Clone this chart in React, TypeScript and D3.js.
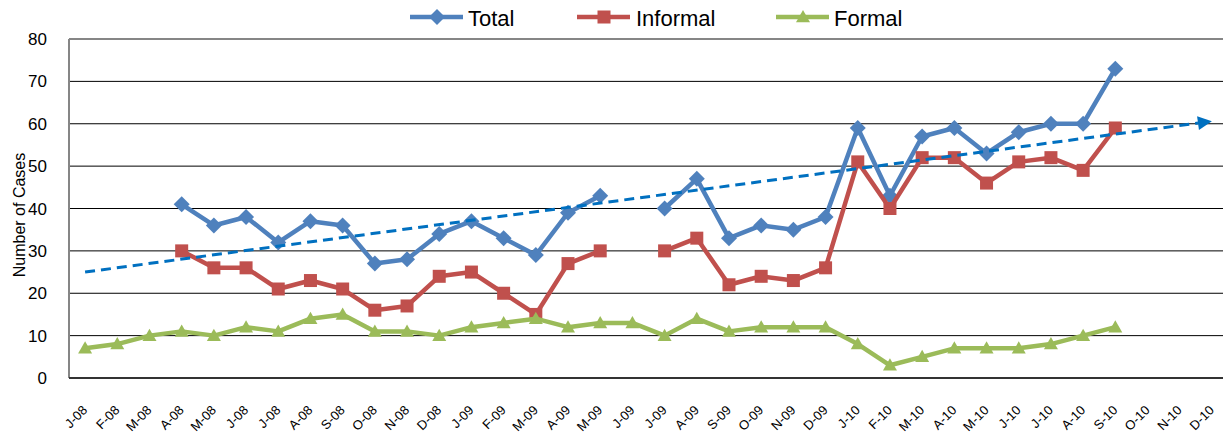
import React from "react";
import * as d3 from "d3";

const categories = ["J-08","F-08","M-08","A-08","M-08","J-08","J-08","A-08","S-08","O-08","N-08","D-08",
  "J-09","F-09","M-09","A-09","M-09","J-09","J-09","A-09","S-09","O-09","N-09","D-09",
  "J-10","F-10","M-10","A-10","M-10","J-10","J-10","A-10","S-10","O-10","N-10","D-10"];

const totalValues: (number | null)[] = [null,null,null,41,36,38,32,37,36,27,28,34,
  37,33,29,39,43,null,40,47,33,36,35,38,
  59,43,57,59,53,58,60,60,73,null,null,null];

const informalValues: (number | null)[] = [null,null,null,30,26,26,21,23,21,16,17,24,
  25,20,15,27,30,null,30,33,22,24,23,26,
  51,40,52,52,46,51,52,49,59,null,null,null];

const formalValues: (number | null)[] = [7,8,10,11,10,12,11,14,15,11,11,10,
  12,13,14,12,13,13,10,14,11,12,12,12,
  8,3,5,7,7,7,8,10,12,null,null,null];

const trendEnds = [25, 60.6];
const yTicks = [0,10,20,30,40,50,60,70,80];

const W = 1223, H = 437;
const left = 69, right = 1228, top = 39, bottom = 378;

const x = d3.scaleBand<number>().domain(categories.map((_, i) => i)).range([left, right]);
const cx = (i: number) => (x(i) as number) + x.bandwidth() / 2;
const y = d3.scaleLinear().domain([0, 80]).range([bottom, top]);

const COLORS = { total: "#4F81BD", informal: "#C0504D", formal: "#9BBB59", trend: "#0070C0" };

function linePath(vals: (number | null)[]) {
  return d3.line<number | null>()
    .defined(v => v !== null)
    .x((_, i) => cx(i))
    .y(v => y(v as number))(vals) || "";
}

const diamond = (px: number, py: number, r = 8) =>
  `M${px},${py - r}L${px + r},${py}L${px},${py + r}L${px - r},${py}Z`;
const triangle = (px: number, py: number, s = 7) =>
  `M${px},${py - s}L${px + s},${py + s * 0.75}L${px - s},${py + s * 0.75}Z`;

function Marker({ kind, px, py, color }: { kind: string; px: number; py: number; color: string }) {
  if (kind === "diamond") return <path d={diamond(px, py)} fill={color} />;
  if (kind === "square") return <rect x={px - 6.5} y={py - 6.5} width={13} height={13} fill={color} />;
  return <path d={triangle(px, py)} fill={color} />;
}

const seriesList = [
  { name: "Total", values: totalValues, color: COLORS.total, kind: "diamond", lx: 410, tx: 468 },
  { name: "Informal", values: informalValues, color: COLORS.informal, kind: "square", lx: 577, tx: 636 },
  { name: "Formal", values: formalValues, color: COLORS.formal, kind: "triangle", lx: 776, tx: 834 },
];

export default function App() {
  const tx0 = cx(0), tx1 = cx(categories.length - 1);
  const ty0 = y(trendEnds[0]), ty1 = y(trendEnds[1]);
  const ang = Math.atan2(ty1 - ty0, tx1 - tx0);
  const aLen = 14, aW = 7;
  const bx = tx1 - aLen * Math.cos(ang), by = ty1 - aLen * Math.sin(ang);
  const arrow = `M${tx1},${ty1}L${bx - aW * Math.sin(ang)},${by + aW * Math.cos(ang)}L${bx + aW * Math.sin(ang)},${by - aW * Math.cos(ang)}Z`;

  return (
    <svg width={W} height={H} style={{ position: "absolute", left: 0, top: 0, fontFamily: "'Liberation Sans', Arial, sans-serif" }}>
      <rect x={0} y={0} width={W} height={H} fill="#fff" />
      {yTicks.filter(t => t > 0 && t < 80).map(t => (
        <line key={t} x1={left} x2={W} y1={y(t)} y2={y(t)} stroke="#000" strokeWidth={1} />
      ))}
      <line x1={left} x2={W} y1={y(80)} y2={y(80)} stroke="#868686" strokeWidth={2} />
      <line x1={left} x2={left} y1={top} y2={bottom} stroke="#868686" strokeWidth={2} />
      <line x1={left} x2={W} y1={bottom} y2={bottom} stroke="#333" strokeWidth={2} />
      {yTicks.map(t => (
        <text key={t} x={47} y={y(t) + 6} textAnchor="end" fontSize={17} fill="#000">{t}</text>
      ))}
      {categories.map((c, i) => (
        <text key={i} transform={`translate(${cx(i) + 3},${411}) rotate(-45)`} textAnchor="end" fontSize={13} fill="#000">{c}</text>
      ))}
      <text transform={`translate(25,215) rotate(-90)`} textAnchor="middle" fontSize={16} fill="#000">Number of Cases</text>

      {seriesList.map(s => (
        <g key={s.name}>
          <path d={linePath(s.values)} fill="none" stroke={s.color} strokeWidth={4.5} strokeLinejoin="round" />
          {s.values.map((v, i) => v === null ? null : (
            <Marker key={i} kind={s.kind} px={cx(i)} py={y(v)} color={s.color} />
          ))}
        </g>
      ))}

      <line x1={tx0} y1={ty0} x2={bx} y2={by} stroke={COLORS.trend} strokeWidth={3} strokeDasharray="10,6" />
      <path d={arrow} fill={COLORS.trend} />

      {seriesList.map(s => (
        <g key={"lg" + s.name}>
          <line x1={s.lx} x2={s.lx + 53} y1={17} y2={17} stroke={s.color} strokeWidth={4.5} />
          <Marker kind={s.kind} px={s.lx + 27} py={17} color={s.color} />
          <text x={s.tx} y={26} fontSize={22} fill="#000">{s.name}</text>
        </g>
      ))}
    </svg>
  );
}
